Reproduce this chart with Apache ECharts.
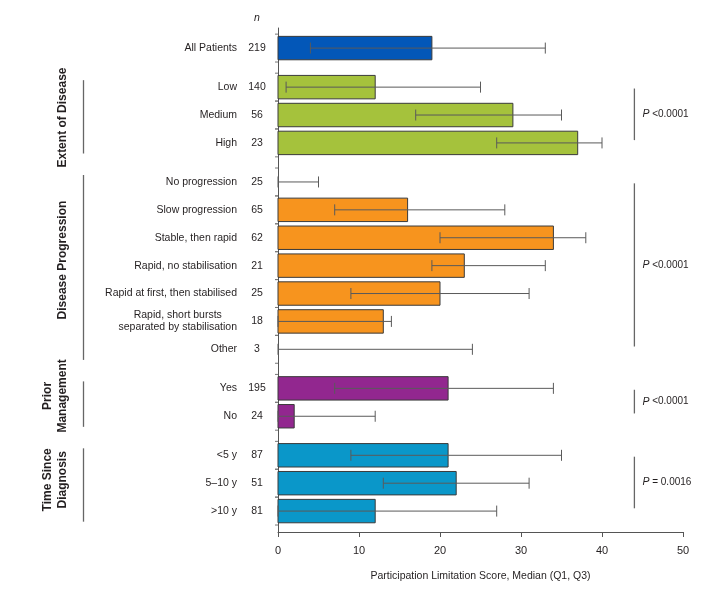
<!DOCTYPE html>
<html>
<head>
<meta charset="utf-8">
<script src="https://cdn.jsdelivr.net/npm/echarts@6/dist/echarts.min.js"></script>
<style>
  html, body { margin: 0; padding: 0; background: #fff; }
  #chart { width: 709px; height: 590px; }
</style>
</head>
<body>
<div id="chart"></div>
<script>
// rows, top to bottom
const categories = [
  'All Patients',
  'Low', 'Medium', 'High',
  'No progression', 'Slow progression', 'Stable, then rapid', 'Rapid, no stabilisation',
  'Rapid at first, then stabilised', 'Rapid, short bursts\nseparated by stabilisation', 'Other',
  'Yes', 'No',
  '<5 y', '5–10 y', '>10 y'
]
const nValues = [219, 140, 56, 23, 25, 65, 62, 21, 25, 18, 3, 195, 24, 87, 51, 81]
const medians = [19, 12, 29, 37, 0, 16, 34, 23, 20, 13, 0, 21, 2, 21, 22, 12]
const q1Values = [4, 1, 17, 27, 0, 7, 20, 19, 9, 0, 0, 7, 0, 9, 13, 0]
const q3Values = [33, 25, 35, 40, 5, 28, 38, 33, 31, 14, 24, 34, 12, 35, 31, 27]
const rowGroup = [0, 1, 1, 1, 2, 2, 2, 2, 2, 2, 2, 3, 3, 4, 4, 4]

// groups
const groupNames = ['', 'Extent of Disease', 'Disease Progression', 'Prior\nManagement', 'Time Since\nDiagnosis']
const groupColors = ['#0357b8', '#a5c23c', '#f7941e', '#92278f', '#0a97c9']
const pValues = ['', '<0.0001', '<0.0001', '<0.0001', '= 0.0016']

const FONT = '"Liberation Sans", Arial, Helvetica, sans-serif'
const TEXT = '#231f20'
const GROUP_GAP = 0.4
const BAR_H = 0.84
// vertical centre of the rotated group titles, in row units
const groupLabelPos = [0, 2.49, 7.6, 12.47, 15.48]

const rowPos = categories.map((c, i) => i + GROUP_GAP * rowGroup[i])

const measure = (() => {
  const ctx = document.createElement('canvas').getContext('2d')
  return (txt, size) => {
    ctx.font = size + 'px ' + FONT
    return ctx.measureText(txt).width
  }
})()

const rowData = categories.map((c, i) => [rowPos[i], medians[i], q1Values[i], q3Values[i], i])

const groupData = []
for (let g = 1; g < groupNames.length; g++) {
  const rows = rowPos.filter((p, i) => rowGroup[i] === g)
  groupData.push([rows[0], rows[rows.length - 1], g])
}

function renderRow(params, api) {
  const i = api.value(4)
  const y = api.value(0)
  const [x0, yc] = api.coord([0, y])
  const xm = api.coord([api.value(1), y])[0]
  const xl = api.coord([api.value(2), y])[0]
  const xh = api.coord([api.value(3), y])[0]
  const unit = api.size([0, 1])[1]
  const bh = unit * BAR_H
  const cap = 5.5
  const children = []

  if (xm > x0) {
    children.push({
      type: 'rect',
      shape: { x: x0, y: yc - bh / 2, width: xm - x0, height: bh },
      style: { fill: groupColors[rowGroup[i]], stroke: '#3a3a3a', lineWidth: 1 }
    })
  }
  // Q1 - Q3 whisker
  children.push({ type: 'line', shape: { x1: xl, y1: yc, x2: xh, y2: yc }, style: { stroke: '#5a5a5a', lineWidth: 1 } })
  children.push({ type: 'line', shape: { x1: xl, y1: yc - cap, x2: xl, y2: yc + cap }, style: { stroke: '#5a5a5a', lineWidth: 1 } })
  children.push({ type: 'line', shape: { x1: xh, y1: yc - cap, x2: xh, y2: yc + cap }, style: { stroke: '#5a5a5a', lineWidth: 1 } })
  // little ticks on the axis at row edges
  ;[-0.5, 0.5].forEach(d => {
    children.push({ type: 'line', shape: { x1: x0 - 3, y1: yc + d * unit, x2: x0, y2: yc + d * unit }, style: { stroke: '#777', lineWidth: 1 } })
  })

  // category label
  const label = categories[i]
  const lines = label.split('\n')
  if (lines.length > 1) {
    const w = Math.max(...lines.map(l => measure(l, 10.5)))
    children.push({
      type: 'text',
      style: { text: label, x: x0 - 41 - w / 2, y: yc, align: 'center', verticalAlign: 'middle', fontSize: 10.5, fontFamily: FONT, fill: TEXT, lineHeight: 12 }
    })
  } else {
    children.push({
      type: 'text',
      style: { text: label, x: x0 - 41, y: yc, align: 'right', verticalAlign: 'middle', fontSize: 10.5, fontFamily: FONT, fill: TEXT }
    })
  }
  // n
  children.push({
    type: 'text',
    style: { text: String(nValues[i]), x: x0 - 21, y: yc, align: 'center', verticalAlign: 'middle', fontSize: 10.5, fontFamily: FONT, fill: TEXT }
  })
  if (i === 0) {
    const top = api.coord([0, -0.72])[1]
    children.push({
      type: 'text',
      style: { text: 'n', x: x0 - 21, y: top - 10, align: 'center', verticalAlign: 'middle', fontSize: 10.5, fontStyle: 'italic', fontFamily: FONT, fill: TEXT }
    })
  }
  return { type: 'group', children }
}

function renderGroup(params, api) {
  const first = api.value(0)
  const last = api.value(1)
  const g = api.value(2)
  const x0 = api.coord([0, first])[0]
  const children = []

  // left bracket + rotated title
  const lx = x0 - 194.5
  const lt = api.coord([0, first - 0.25])[1]
  const lb = api.coord([0, last + 0.38])[1]
  children.push({ type: 'line', shape: { x1: lx, y1: lt, x2: lx, y2: lb }, style: { stroke: '#666', lineWidth: 1.3 } })
  const name = groupNames[g]
  const twoLines = name.indexOf('\n') >= 0
  const ty = api.coord([0, groupLabelPos[g]])[1]
  children.push({
    type: 'text',
    x: twoLines ? x0 - 223 : x0 - 215,
    y: ty,
    rotation: Math.PI / 2,
    style: { text: name, x: 0, y: 0, align: 'center', verticalAlign: 'middle', fontSize: 12, fontWeight: 'bold', fontFamily: FONT, fill: TEXT, lineHeight: 15 }
  })

  // right bracket + P value
  const rt = api.coord([44, first + 0.05])
  const rb = api.coord([44, last - 0.1])
  children.push({ type: 'line', shape: { x1: rt[0], y1: rt[1], x2: rb[0], y2: rb[1] }, style: { stroke: '#666', lineWidth: 1.3 } })
  children.push({
    type: 'text',
    style: {
      text: '{i|P} ' + pValues[g],
      x: rt[0] + 8, y: (rt[1] + rb[1]) / 2,
      align: 'left', verticalAlign: 'middle',
      fontSize: 10, fontFamily: FONT, fill: TEXT,
      rich: { i: { fontStyle: 'italic', fontSize: 10.5, fontFamily: FONT, fill: TEXT } }
    }
  })
  return { type: 'group', children }
}

const chart = echarts.init(document.getElementById('chart'), null, { renderer: 'canvas' })

chart.setOption({
  animation: false,
  backgroundColor: '#fff',
  grid: { left: 278, right: 26, top: 28, bottom: 58 },
  xAxis: {
    type: 'value',
    min: 0,
    max: 50,
    interval: 10,
    axisLine: { show: true, onZero: false, lineStyle: { color: '#555', width: 1 } },
    axisTick: { show: true, length: 5, lineStyle: { color: '#555' } },
    axisLabel: { color: TEXT, fontSize: 11, fontFamily: FONT, margin: 13 },
    splitLine: { show: false },
    name: 'Participation Limitation Score, Median (Q1, Q3)',
    nameLocation: 'middle',
    nameGap: 39,
    nameTextStyle: { color: TEXT, fontSize: 10.5, fontFamily: FONT }
  },
  yAxis: {
    type: 'value',
    inverse: true,
    min: -0.72,
    max: 17.35,
    axisLine: { show: true, onZero: false, lineStyle: { color: '#555', width: 1 } },
    axisTick: { show: false },
    axisLabel: { show: false },
    splitLine: { show: false }
  },
  series: [
    {
      type: 'custom',
      clip: false,
      renderItem: renderRow,
      encode: { x: [1, 2, 3], y: 0 },
      data: rowData,
      z: 3
    },
    {
      type: 'custom',
      clip: false,
      renderItem: renderGroup,
      encode: { y: [0, 1] },
      data: groupData,
      z: 3
    }
  ]
})
</script>
</body>
</html>
